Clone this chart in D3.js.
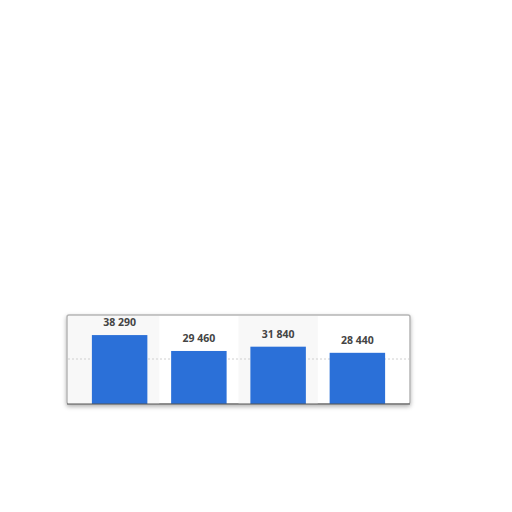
<!DOCTYPE html>
<html><head><meta charset="utf-8">
<script src="https://cdn.jsdelivr.net/npm/d3@7"></script>
<style>body{margin:0;background:#fff}svg{display:block}</style>
</head><body><svg id="c" width="512" height="512"></svg>
<script>
const categories = ["A","B","C","D"];
const values = [38290, 29460, 31840, 28440];
const labels = ["38 290","29 460","31 840","28 440"];
const gridTicks = [25000];

const svg = d3.select("#c");
const defs = svg.append("defs");
const f = defs.append("filter").attr("id","sh").attr("x","-10%").attr("y","-20%").attr("width","120%").attr("height","150%");
f.append("feDropShadow").attr("dx",0).attr("dy",2).attr("stdDeviation",2).attr("flood-color","#000").attr("flood-opacity",0.3);

const panel = {x0:67, x1:410, y0:315, y1:404};
const x = d3.scaleBand().domain(categories).range([80,397]).paddingInner(0.3).paddingOuter(0.15);
const y = d3.scaleLinear().domain([0,50000]).range([404,314]);

svg.append("rect").attr("x",panel.x0).attr("y",panel.y0).attr("width",panel.x1-panel.x0).attr("height",panel.y1-panel.y0)
  .attr("fill","#fff").attr("stroke","#b5b5b5").attr("stroke-width",1.5).attr("rx",2).attr("filter","url(#sh)");

// alternating column shading
const step = x.step();
svg.selectAll("rect.stripe").data(categories).join("rect").attr("class","stripe")
  .attr("x",(d,i)=> i===0 ? panel.x0+1 : x(d)-step*x.paddingInner()/2)
  .attr("width",(d,i)=> i===0 ? x(d)+x.bandwidth()+step*x.paddingInner()/2-panel.x0-1 : step)
  .attr("y",panel.y0+1).attr("height",panel.y1-panel.y0-1)
  .attr("fill",(d,i)=> i%2===0 ? "#f8f8f8" : "none");

svg.selectAll("line.grid").data(gridTicks).join("line").attr("class","grid")
  .attr("x1",panel.x0+1).attr("x2",panel.x1-1).attr("y1",d=>y(d)).attr("y2",d=>y(d))
  .attr("stroke","#d0d0d0").attr("stroke-dasharray","2,2");

svg.selectAll("rect.bar").data(values).join("rect").attr("class","bar")
  .attr("x",(d,i)=>x(categories[i])).attr("width",x.bandwidth())
  .attr("y",d=>y(d)).attr("height",d=>y(0)-y(d)).attr("fill","#2b70d8");

const ax = svg.append("g").attr("transform",`translate(0,${y(0)})`)
  .call(d3.axisBottom(x).tickSize(0).tickFormat(""));
ax.select(".domain").attr("stroke","#555").attr("d",`M${panel.x0},0H${panel.x1}`);

svg.selectAll("text.lbl").data(values).join("text").attr("class","lbl")
  .attr("x",(d,i)=>x(categories[i])+x.bandwidth()/2).attr("y",d=>y(d)-9)
  .attr("text-anchor","middle").attr("font-family","'Open Sans', Roboto, sans-serif")
  .attr("font-weight","bold").attr("font-size",10.5).attr("fill","#444")
  .text((d,i)=>labels[i]);
</script></body></html>
